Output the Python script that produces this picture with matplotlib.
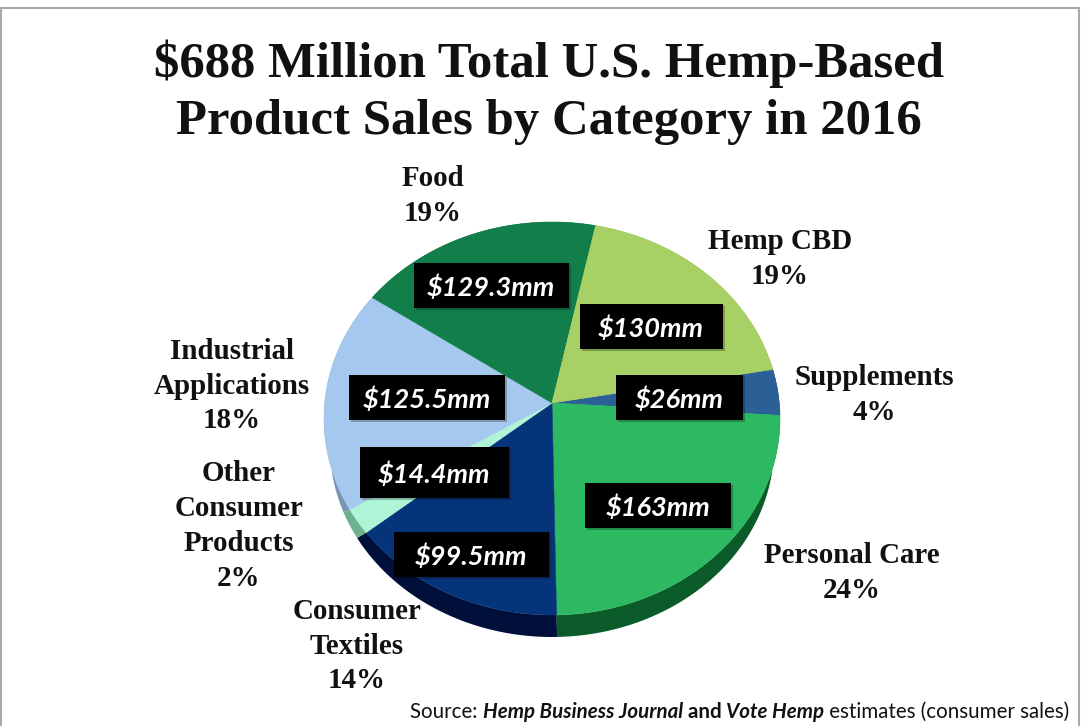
import numpy as np
import matplotlib.pyplot as plt
from matplotlib.patches import Rectangle

# values in $ million, clockwise from Supplements
categories = ["Supplements", "Personal Care", "Consumer Textiles", "Other Consumer Products",
              "Industrial Applications", "Food", "Hemp CBD"]
sales = [26, 163, 99.5, 14.4, 125.5, 129.3, 130]
sale_labels = ["$26mm", "$163mm", "$99.5mm", "$14.4mm", "$125.5mm", "$129.3mm", "$130mm"]
share_labels = ["Supplements\n4%", "Personal Care\n24%", "Consumer\nTextiles\n14%",
                "Other\nConsumer\nProducts\n2%", "Industrial\nApplications\n18%",
                "Food\n19%", "Hemp CBD\n19%"]
top_colors = ["#2b6096", "#2cb962", "#06347a", "#aef5d8", "#a5c8ee", "#127f4b", "#a8d165"]
side_colors = ["#1d426b", "#0b5a2a", "#010f3b", "#6fb08f", "#7a94b5", "#0a5030", "#6f8c40"]

# label boxes: centre x, centre y, width, height
sale_box = [(679, 397, 127, 45), (658, 505, 146, 45), (471, 554, 155, 45), (434, 472, 149, 51),
            (427, 397, 156, 45), (491, 285, 155, 45), (651, 326, 143, 45)]
share_pos = [(874, 395), (852, 573), (357, 646), (239, 526), (232, 386), (433, 196), (780, 259)]

W, H = 1081, 726
fig = plt.figure(figsize=(W / 100, H / 100), dpi=100)
ax = fig.add_axes([0, 0, 1, 1])
ax.set_xlim(0, W)
ax.set_ylim(H, 0)
ax.axis("off")

# frame of the picture
ax.plot([1, 1, 1079, 1079], [726, 8, 8, 726], color="#a8a8a8", lw=1.5)

ax.text(549, 92, "$688 Million Total U.S. Hemp-Based\nProduct Sales by Category in 2016",
        family="Liberation Serif", weight="bold", fontsize=36.5, ha="center", va="center",
        linespacing=1.31, color="#111111")

# the pie tip does not sit at the centre of the ellipse, it is drawn in perspective
tip_x, tip_y = 552, 403
cx, cy, rx, ry = 552, 418.5, 228, 196.5
low_cy, low_rx, low_ry = 447, 222, 190
start = -10  # where Supplements begins, degrees clockwise from 3 o'clock

angles = start + np.cumsum([0] + [s / sum(sales) * 360 for s in sales])


def rim(a0, a1, centre_y, radius_x, radius_y):
    # rim points seen from the tip, spaced as on the flat pie
    a = np.radians(np.linspace(a0, a1, 80))
    py = (tip_y - centre_y) / radius_y
    dx, dy = np.cos(a), np.sin(a)
    s = -py * dy + np.sqrt((py * dy) ** 2 - py ** 2 + 1)
    return np.column_stack([tip_x + radius_x * s * dx, tip_y + radius_y * s * dy])


# side wall goes first, the top face covers most of it
for i in range(len(sales)):
    top = rim(angles[i], angles[i + 1], cy, rx, ry)
    bottom = rim(angles[i], angles[i + 1], low_cy, low_rx, low_ry)[::-1]
    verts = np.vstack([top, bottom])
    ax.fill(verts[:, 0], verts[:, 1], color=side_colors[i], lw=0)

# top face
for i in range(len(sales)):
    pts = rim(angles[i], angles[i + 1], cy, rx, ry)
    verts = np.vstack([[tip_x, tip_y], pts])
    ax.fill(verts[:, 0], verts[:, 1], color=top_colors[i], lw=0.4, edgecolor=top_colors[i])

for label, (x, y, w, h) in zip(sale_labels, sale_box):
    ax.add_patch(Rectangle((x - w / 2 + 2, y - h / 2 + 2), w, h, color="black", alpha=0.25, lw=0))
    ax.add_patch(Rectangle((x - w / 2, y - h / 2), w, h, color="black", lw=0))
    ax.text(x, y + 2, label, color="white", family="Lato", weight="bold", style="italic",
            fontsize=19.5, ha="center", va="center")

for label, (x, y) in zip(share_labels, share_pos):
    ax.text(x, y, label, family="Liberation Serif", weight="bold", fontsize=20.9,
            ha="center", va="center", linespacing=1.37, color="#111111")

# source line, each piece placed after the one before
r = fig.canvas.get_renderer()
x = 410
for piece, style, weight in [("Source: ", "normal", "normal"), ("Hemp Business Journal", "italic", "bold"),
                             (" and ", "normal", "bold"), ("Vote Hemp", "italic", "bold"),
                             (" estimates (consumer sales)", "normal", "normal")]:
    t = ax.text(x, 712, piece.replace(" ", "\u00a0"), family="Lato", style=style, weight=weight,
                fontsize=14.8, ha="left", va="center", color="#111111")
    x = ax.transData.inverted().transform(t.get_window_extent(r))[1, 0]

fig.savefig("out.png", dpi=100)
